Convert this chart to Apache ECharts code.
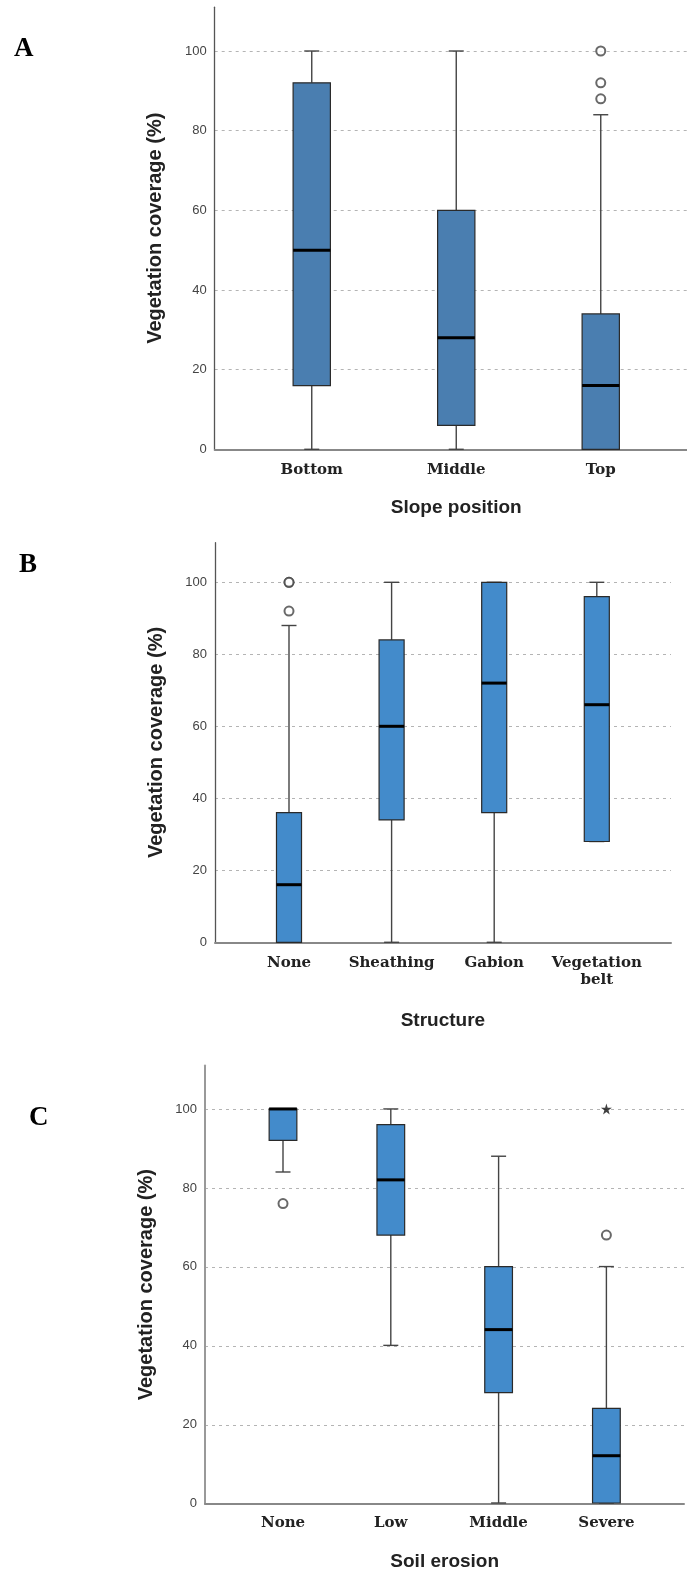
<!DOCTYPE html>
<html>
<head>
<meta charset="utf-8">
<script src="https://cdn.jsdelivr.net/npm/echarts@6/dist/echarts.min.js"></script>
<style>
html,body{margin:0;padding:0;background:#fff;}
#c{width:687px;height:1572px;}
</style>
</head>
<body>
<div id="c"></div>
<script>
// ---------- DATA ----------
// Panel A: slope position. box = [min, Q1, median, Q3, max]
const catA = ['Bottom', 'Middle', 'Top'];
const boxA = [[0, 16, 50, 92, 100], [0, 6, 28, 60, 100], [0, 0, 16, 34, 84]];
const outA = [[2, 100], [2, 92], [2, 88]];
const extA = [];

// Panel B: structure
const catB = ['None', 'Sheathing', 'Gabion', 'Vegetation\nbelt'];
const boxB = [[0, 0, 16, 36, 88], [0, 34, 60, 84, 100], [0, 36, 72, 100, 100], [28, 28, 66, 96, 100]];
const outB = [[0, 100], [0, 100], [0, 92]];
const extB = [];

// Panel C: soil erosion
const catC = ['None', 'Low', 'Middle', 'Severe'];
const boxC = [[84, 92, 100, 100, 100], [40, 68, 82, 96, 100], [0, 28, 44, 60, 88], [0, 0, 12, 24, 60]];
const outC = [[0, 76], [3, 68]];
const extC = [[3, 100]];

const yTitle = 'Vegetation coverage (%)';
const yMax = 111;
const yStep = 20;

// ---------- LAYOUT ----------
const panels = [
  {letter: 'A', lx: 14, ly: 50, cats: catA, boxes: boxA, outs: outA, exts: extA, xName: 'Slope position',
   color: '#4a7eb0', full: {left: 214.7, top: 7.2, width: 472.3, height: 442.1},
   band: {left: 239.5, width: 433.5}, frac: 0.258, nameGap: 49, yAxisColor: '#555', yAxisW: 1.3},
  {letter: 'B', lx: 19, ly: 566, cats: catB, boxes: boxB, outs: outB, exts: extB, xName: 'Structure',
   color: '#438bcb', full: {left: 215, top: 542.7, width: 456, height: 399.6},
   band: {left: 237.7, width: 410.4}, frac: 0.244, nameGap: 69, yAxisColor: '#555', yAxisW: 1.3},
  {letter: 'C', lx: 29, ly: 1119, cats: catC, boxes: boxC, outs: outC, exts: extC, xName: 'Soil erosion',
   color: '#438bcb', full: {left: 205, top: 1065.6, width: 479, height: 438.1},
   band: {left: 229.1, width: 431.2}, frac: 0.257, nameGap: 49, yAxisColor: '#999', yAxisW: 2}
];

const STAR = 'path://M50,0 L61,35 L98,35 L68,57 L79,91 L50,70 L21,91 L32,57 L2,35 L39,35 Z';

const grid = [], xAxis = [], yAxis = [], series = [], graphic = [];

panels.forEach((p, i) => {
  const gFull = 2 * i, gBand = 2 * i + 1;
  grid.push({left: p.full.left, top: p.full.top, width: p.full.width, height: p.full.height});
  grid.push({left: p.band.left, top: p.full.top, width: p.band.width, height: p.full.height});

  // background axes (full extent)
  xAxis.push({
    gridIndex: gFull, type: 'value', min: 0, max: 1,
    axisLine: {show: true, lineStyle: {color: '#888', width: 2}},
    axisTick: {show: false}, axisLabel: {show: false}, splitLine: {show: false}
  });
  yAxis.push({
    gridIndex: gFull, type: 'value', min: 0, max: yMax, interval: yStep,
    name: yTitle, nameLocation: 'middle', nameRotate: 90, nameGap: 49,
    nameTextStyle: {fontFamily: 'Liberation Sans', fontWeight: 'bold', fontSize: 20, color: '#222'},
    axisLine: {show: true, lineStyle: {color: p.yAxisColor, width: p.yAxisW}},
    axisTick: {show: false},
    axisLabel: {show: true, showMaxLabel: false, margin: 8, fontFamily: 'Liberation Sans', fontSize: 13, color: '#444'},
    splitLine: {show: true, showMinLine: false, showMaxLine: false, lineStyle: {color: '#b4b4b4', width: 1, type: [3, 4]}}
  });

  // band axes (categories)
  xAxis.push({
    gridIndex: gBand, type: 'category', data: p.cats, boundaryGap: true,
    name: p.xName, nameLocation: 'middle', nameGap: p.nameGap,
    nameTextStyle: {fontFamily: 'Liberation Sans', fontWeight: 'bold', fontSize: 19, color: '#222'},
    axisLine: {show: false}, axisTick: {show: false}, splitLine: {show: false},
    axisLabel: {margin: 12, fontFamily: 'DejaVu Serif', fontWeight: 'bold', fontSize: 15, color: '#222', lineHeight: 17, interval: 0}
  });
  yAxis.push({gridIndex: gBand, type: 'value', min: 0, max: yMax, show: false});

  const boxData = p.boxes.map((b, k) => [k].concat(b));
  const color = p.color, frac = p.frac;
  series.push({
    type: 'custom', xAxisIndex: 2 * i + 1, yAxisIndex: 2 * i + 1,
    data: boxData, z: 3,
    renderItem: function (params, api) {
      const idx = api.value(0);
      const pMin = api.coord([idx, api.value(1)]);
      const pQ1 = api.coord([idx, api.value(2)]);
      const pMed = api.coord([idx, api.value(3)]);
      const pQ3 = api.coord([idx, api.value(4)]);
      const pMax = api.coord([idx, api.value(5)]);
      const band = api.size([1, 0])[0];
      const bw = band * frac;
      const cap = 15;
      const x = pMed[0];
      const wStyle = {stroke: '#444', lineWidth: 1.4};
      return {
        type: 'group',
        children: [
          {type: 'line', shape: {x1: x, y1: pMax[1], x2: x, y2: pQ3[1]}, style: wStyle},
          {type: 'line', shape: {x1: x, y1: pQ1[1], x2: x, y2: pMin[1]}, style: wStyle},
          {type: 'line', shape: {x1: x - cap / 2, y1: pMax[1], x2: x + cap / 2, y2: pMax[1]}, style: wStyle},
          {type: 'line', shape: {x1: x - cap / 2, y1: pMin[1], x2: x + cap / 2, y2: pMin[1]}, style: wStyle},
          {type: 'rect', shape: {x: x - bw / 2, y: pQ3[1], width: bw, height: pQ1[1] - pQ3[1]},
           style: {fill: color, stroke: '#2a2a2a', lineWidth: 1.2}},
          {type: 'line', shape: {x1: x - bw / 2, y1: pMed[1], x2: x + bw / 2, y2: pMed[1]},
           style: {stroke: '#000', lineWidth: 3}}
        ]
      };
    }
  });
  series.push({
    type: 'scatter', xAxisIndex: 2 * i + 1, yAxisIndex: 2 * i + 1, data: p.outs, z: 4,
    symbol: 'emptyCircle', symbolSize: 9,
    itemStyle: {color: '#444', borderWidth: 1.5}
  });
  if (p.exts.length) {
    series.push({
      type: 'scatter', xAxisIndex: 2 * i + 1, yAxisIndex: 2 * i + 1, data: p.exts, z: 4,
      symbol: STAR, symbolSize: 11, itemStyle: {color: '#111'}
    });
  }
  graphic.push({
    type: 'text', left: p.lx, top: p.ly - 14,
    style: {text: p.letter, font: 'bold 27px "Liberation Serif"', fill: '#000'}
  });
});

const chart = echarts.init(document.getElementById('c'), null, {renderer: 'canvas'});
chart.setOption({
  animation: false,
  backgroundColor: '#fff',
  grid, xAxis, yAxis, series, graphic
});
</script>
</body>
</html>
